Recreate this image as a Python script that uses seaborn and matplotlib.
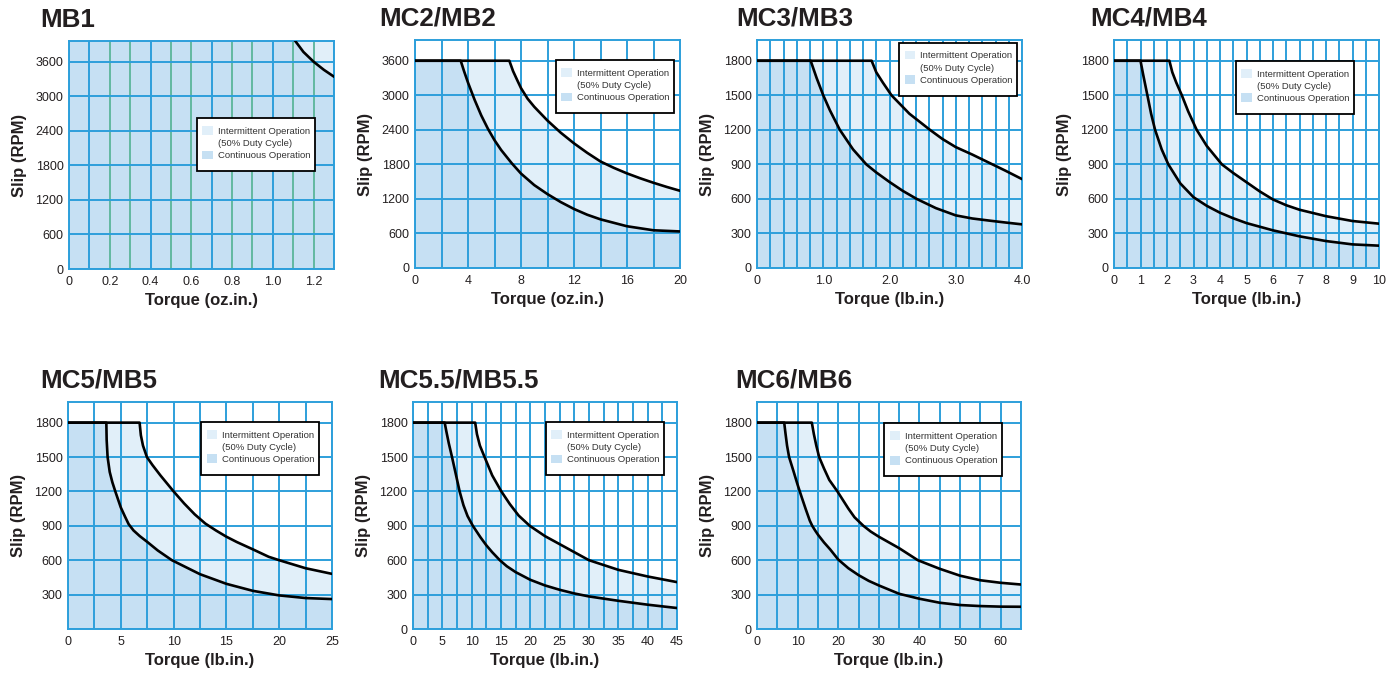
import numpy as np
import matplotlib
matplotlib.use("Agg")
import matplotlib.pyplot as plt
import seaborn as sns
from matplotlib.patches import Patch, Rectangle

# ---- data (torque vs slip limits) ----
mb1_cont_x = [0, 1.05, 1.11, 1.15, 1.2, 1.25, 1.3]
mb1_cont_y = [4200, 4200, 3960, 3770, 3600, 3460, 3340]
mb1_int_x = [0, 1.3]
mb1_int_y = [4200, 4200]

mc2_cont_x = [0, 3.45, 3.7, 4, 4.5, 5, 5.5, 6, 6.5, 7.3, 8, 9, 10, 11, 12, 13, 14, 16, 18, 20]
mc2_cont_y = [3600, 3600, 3420, 3220, 2920, 2650, 2420, 2220, 2050, 1820, 1640, 1440, 1283,
              1145, 1025, 925, 845, 725, 655, 635]
mc2_int_x = [0, 7.12, 7.4, 7.7, 8, 8.5, 9, 10, 11, 12, 13, 14, 15, 16, 17, 18, 19, 20]
mc2_int_y = [3600, 3600, 3420, 3270, 3124, 2940, 2800, 2560, 2350, 2165, 2000, 1850, 1740,
             1643, 1558, 1480, 1408, 1341]

mc3_cont_x = [0, 0.81, 0.9, 1.0, 1.1, 1.25, 1.45, 1.65, 1.8, 2.0, 2.2, 2.41, 2.7, 3.0, 3.25,
              3.5, 3.75, 4.0]
mc3_cont_y = [1800, 1800, 1650, 1500, 1370, 1200, 1030, 900, 830, 747, 670, 600, 520, 457,
              430, 412, 395, 379]
mc3_int_x = [0, 1.73, 1.8, 1.9, 2.03, 2.3, 2.61, 2.8, 3.0, 3.25, 3.5, 3.75, 4.0]
mc3_int_y = [1800, 1800, 1700, 1610, 1500, 1340, 1200, 1120, 1050, 985, 915, 845, 772]

mc4_cont_x = [0, 1.0, 1.1, 1.26, 1.4, 1.55, 1.8, 2.05, 2.5, 3.0, 3.5, 4, 4.5, 5, 6, 7, 8, 9, 10]
mc4_cont_y = [1800, 1800, 1680, 1500, 1340, 1200, 1030, 900, 735, 615, 540, 480, 432, 390,
              327, 275, 234, 205, 194]
mc4_int_x = [0, 2.09, 2.2, 2.35, 2.56, 2.8, 3.12, 3.5, 4.07, 4.5, 5, 5.5, 6, 6.5, 7, 8, 9, 10]
mc4_int_y = [1800, 1800, 1700, 1610, 1500, 1360, 1200, 1060, 900, 825, 745, 665, 595, 545,
             506, 450, 408, 385]

mc5_cont_x = [0, 3.63, 3.66, 3.75, 3.95, 4.2, 4.48, 5.0, 5.4, 5.74, 6.2, 6.8, 7.5, 8.5, 9.84,
              12.5, 15, 17.5, 20, 22.5, 25]
mc5_cont_y = [1800, 1800, 1650, 1500, 1370, 1280, 1200, 1060, 980, 915, 860, 810, 760, 685,
              600, 478, 394, 333, 293, 270, 261]
mc5_int_x = [0, 6.78, 6.9, 7.1, 7.47, 8, 8.75, 10, 11, 12, 13, 14, 15, 16, 17.5, 19, 20,
             22.5, 25]
mc5_int_y = [1800, 1800, 1690, 1600, 1500, 1430, 1340, 1200, 1095, 1000, 920, 860, 805, 758,
             695, 630, 600, 530, 481]

mc55_cont_x = [0, 5.4, 5.7, 6.1, 6.65, 7.3, 7.95, 8.6, 9.3, 10.2, 11.5, 12.5, 13.5, 14.8, 16,
               17.5, 20, 22.5, 25, 27.5, 30, 35, 40, 45]
mc55_cont_y = [1800, 1800, 1720, 1620, 1500, 1350, 1200, 1080, 985, 900, 800, 730, 670, 600,
               547, 496, 429, 380, 342, 310, 284, 246, 212, 183]
mc55_int_x = [0, 10.6, 10.9, 11.4, 12.2, 13.5, 15.06, 16.5, 18, 19.9, 22.5, 25, 30, 35, 40, 45]
mc55_int_y = [1800, 1800, 1700, 1600, 1500, 1340, 1200, 1090, 990, 900, 810, 740, 600, 516,
              458, 409]

mc6_cont_x = [0, 6.7, 7.0, 7.4, 7.9, 9, 10, 11, 12, 13, 13.6, 14.3, 15, 16.5, 18, 20, 22.5,
              25, 27.5, 30, 35, 40, 45, 50, 55, 60, 65]
mc6_cont_y = [1800, 1800, 1710, 1600, 1500, 1375, 1258, 1150, 1045, 945, 900, 860, 823, 755,
              695, 606, 530, 470, 420, 380, 307, 264, 229, 209, 200, 195, 194]
mc6_int_x = [0, 13.5, 14, 14.6, 15.3, 16.5, 17.8, 19.8, 22.5, 24, 26.2, 28, 30, 32.5, 35,
             39.6, 45, 50, 55, 60, 65]
mc6_int_y = [1800, 1800, 1700, 1600, 1500, 1400, 1300, 1200, 1050, 975, 900, 850, 805, 755,
             705, 600, 525, 465, 425, 403, 388]

# tick labels
mb1_xtick_vals = [0, 0.2, 0.4, 0.6, 0.8, 1.0, 1.2]
mb1_xtick_txt = ["0", "0.2", "0.4", "0.6", "0.8", "1.0", "1.2"]
mc2_xtick_vals = [0, 4, 8, 12, 16, 20]
mc2_xtick_txt = ["0", "4", "8", "12", "16", "20"]
mc3_xtick_vals = [0, 1, 2, 3, 4]
mc3_xtick_txt = ["0", "1.0", "2.0", "3.0", "4.0"]
mc4_xtick_vals = list(range(0, 11))
mc4_xtick_txt = [str(v) for v in mc4_xtick_vals]
mc5_xtick_vals = [0, 5, 10, 15, 20, 25]
mc5_xtick_txt = ["0", "5", "10", "15", "20", "25"]
mc55_xtick_vals = [0, 5, 10, 15, 20, 25, 30, 35, 40, 45]
mc55_xtick_txt = [str(v) for v in mc55_xtick_vals]
mc6_xtick_vals = [0, 10, 20, 30, 40, 50, 60]
mc6_xtick_txt = [str(v) for v in mc6_xtick_vals]

rpm3600_ticks = [0, 600, 1200, 1800, 2400, 3000, 3600]
rpm3600_txt = ["0", "600", "1200", "1800", "2400", "3000", "3600"]
rpm1800_ticks = [0, 300, 600, 900, 1200, 1500, 1800]
rpm1800_txt = ["0", "300", "600", "900", "1200", "1500", "1800"]
rpm1800_txt_no0 = ["", "300", "600", "900", "1200", "1500", "1800"]

INT_COLOR = "#e1eff9"
CONT_COLOR = "#c6e0f3"
GRID_COLOR = "#2d9fdb"
GREEN_GRID = "#62b8a0"
TEXT_COLOR = "#231f20"

W, H = 1400, 673

# (title, cont, int, xmax, grid step, xticks, ymax, yticks, unit, px box, legend anchor, title dx)
charts = [
    ("MB1", (mb1_cont_x, mb1_cont_y), (mb1_int_x, mb1_int_y), 1.3, 0.1,
     (mb1_xtick_vals, mb1_xtick_txt), 3960, (rpm3600_ticks, rpm3600_txt), "oz.in.",
     (69, 41, 334, 269), (0.482, 0.662), -29),
    ("MC2/MB2", (mc2_cont_x, mc2_cont_y), (mc2_int_x, mc2_int_y), 20, 2,
     (mc2_xtick_vals, mc2_xtick_txt), 3960, (rpm3600_ticks, rpm3600_txt), "oz.in.",
     (415, 40, 680, 268), (0.531, 0.912), -36),
    ("MC3/MB3", (mc3_cont_x, mc3_cont_y), (mc3_int_x, mc3_int_y), 4.0, 0.2,
     (mc3_xtick_vals, mc3_xtick_txt), 1980, (rpm1800_ticks, rpm1800_txt), "lb.in.",
     (757, 40, 1022, 268), (0.536, 0.988), -21),
    ("MC4/MB4", (mc4_cont_x, mc4_cont_y), (mc4_int_x, mc4_int_y), 10, 0.5,
     (mc4_xtick_vals, mc4_xtick_txt), 1980, (rpm1800_ticks, rpm1800_txt), "lb.in.",
     (1114, 40, 1379, 268), (0.46, 0.908), -24),
    ("MC5/MB5", (mc5_cont_x, mc5_cont_y), (mc5_int_x, mc5_int_y), 25, 2.5,
     (mc5_xtick_vals, mc5_xtick_txt), 1980, (rpm1800_ticks, rpm1800_txt_no0), "lb.in.",
     (68, 402, 332, 629), (0.504, 0.912), -28),
    ("MC5.5/MB5.5", (mc55_cont_x, mc55_cont_y), (mc55_int_x, mc55_int_y), 45, 2.5,
     (mc55_xtick_vals, mc55_xtick_txt), 1980, (rpm1800_ticks, rpm1800_txt), "lb.in.",
     (413, 402, 677, 629), (0.503, 0.911), -35),
    ("MC6/MB6", (mc6_cont_x, mc6_cont_y), (mc6_int_x, mc6_int_y), 65, 5,
     (mc6_xtick_vals, mc6_xtick_txt), 1980, (rpm1800_ticks, rpm1800_txt), "lb.in.",
     (757, 402, 1021, 629), (0.482, 0.906), -22),
]

sns.set_theme(style="white")
plt.rcParams['font.family'] = ['Liberation Sans', 'DejaVu Sans']

fig = plt.figure(figsize=(14, 6.73), dpi=100)

for (title, cont, inter, xmax, step, xt, ymax, yt, unit, box, leg_xy, tdx) in charts:
    l, t, r, b = box
    aw, ah = r - l, b - t
    ax = fig.add_axes([l / W, 1 - b / H, aw / W, ah / H])
    ax.set_facecolor("white")

    # filled regions: intermittent first, continuous on top
    ax.fill_between(inter[0], 0, inter[1], color=INT_COLOR, lw=0, zorder=1)
    ax.fill_between(cont[0], 0, cont[1], color=CONT_COLOR, lw=0, zorder=1)
    sns.lineplot(x=inter[0], y=inter[1], ax=ax, color="black", lw=1.9,
                 estimator=None, sort=False, zorder=3)
    sns.lineplot(x=cont[0], y=cont[1], ax=ax, color="black", lw=1.9,
                 estimator=None, sort=False, zorder=3)

    ax.set_xlim(0, xmax)
    ax.set_ylim(0, ymax)

    # grid ticks, only some labelled
    grid_x = np.round(np.arange(0, xmax + step / 2, step), 4)
    xlabels = []
    for g in grid_x:
        lab = ""
        for v, s in zip(xt[0], xt[1]):
            if np.isclose(g, v):
                lab = s
        xlabels.append(lab)
    ax.set_xticks(grid_x)
    ax.set_xticklabels(xlabels)
    ax.set_yticks(yt[0])
    ax.set_yticklabels(yt[1])
    ax.tick_params(length=0, labelsize=9, colors=TEXT_COLOR)
    ax.tick_params(axis="x", pad=5)
    ax.tick_params(axis="y", pad=4)

    ax.set_axisbelow("line")
    ax.grid(True, color=GRID_COLOR, lw=1.4)
    if title == "MB1":
        for gl, g in zip(ax.get_xgridlines(), grid_x):
            if int(round(g * 10)) % 3 != 1 and g > 0:
                gl.set_color(GREEN_GRID)
    for sp in ax.spines.values():
        sp.set_visible(True)
        sp.set_color(GRID_COLOR)
        sp.set_linewidth(1.4)

    ax.set_xlabel(f"Torque ({unit})", fontsize=12, fontweight="bold", color=TEXT_COLOR)
    ax.set_ylabel("Slip (RPM)", fontsize=12, fontweight="bold", color=TEXT_COLOR)
    ax.xaxis.set_label_coords(0.5, -0.105)
    ax.yaxis.set_label_coords(-0.158, 0.5)

    ax.text(tdx / aw, 1 + 14 / ah, title, transform=ax.transAxes,
            fontsize=18.7, fontweight="bold", color=TEXT_COLOR, ha="left", va="baseline")

    # legend: drawn frame + frameless legend inside it
    fx, fy = leg_xy
    bw, bh = 118 / aw, 53 / ah
    ax.add_patch(Rectangle((fx, fy - bh), bw, bh, transform=ax.transAxes,
                           facecolor="white", edgecolor="black", lw=1.3,
                           zorder=4, clip_on=False))
    handles = [Patch(facecolor=INT_COLOR, edgecolor="none"),
               Patch(facecolor="none", edgecolor="none"),
               Patch(facecolor=CONT_COLOR, edgecolor="none")]
    labels = ["Intermittent Operation", "(50% Duty Cycle)", "Continuous Operation"]
    leg = ax.legend(handles, labels, loc="upper left",
                    bbox_to_anchor=(fx + 5.5 / aw, fy - 8 / ah),
                    fontsize=6.8, frameon=False, borderpad=0, labelspacing=0.28,
                    handlelength=1.1, handleheight=1.05, handletextpad=0.55,
                    borderaxespad=0)
    leg.set_zorder(5)
    for txt in leg.get_texts():
        txt.set_color("#333333")

fig.savefig("out.png", dpi=100)
